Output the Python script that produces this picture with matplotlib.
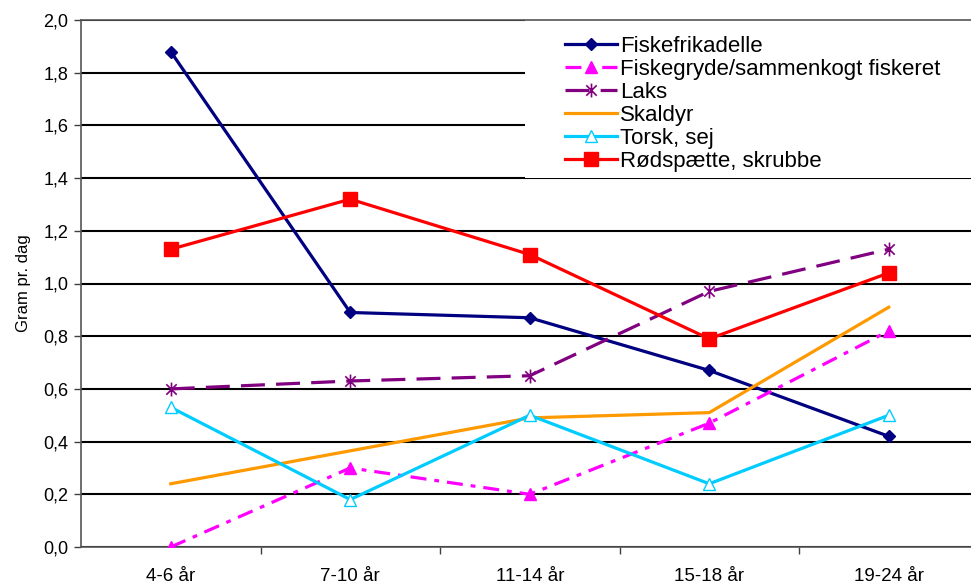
import numpy as np
import matplotlib
matplotlib.use("Agg")
import matplotlib.pyplot as plt
from matplotlib.path import Path
from matplotlib.patches import Rectangle

plt.rcParams['font.family'] = ['Liberation Sans', 'DejaVu Sans']

# data
ages = ['4-6 år', '7-10 år', '11-14 år', '15-18 år', '19-24 år']
fiskefrikadelle = [1.88, 0.89, 0.87, 0.67, 0.42]
fiskegryde = [0.00, 0.30, 0.20, 0.47, 0.82]
laks = [0.60, 0.63, 0.65, 0.97, 1.13]
skaldyr = [0.24, None, 0.49, 0.51, 0.91]
torsk = [0.53, 0.18, 0.50, 0.24, 0.50]
roedspaette = [1.13, 1.32, 1.11, 0.79, 1.04]

# asterisk marker: vertical bar plus an X
star = Path([(0, -1), (0, 1), (-0.75, -0.75), (0.75, 0.75), (-0.75, 0.75), (0.75, -0.75)],
            [Path.MOVETO, Path.LINETO] * 3)

W, H = 971, 583
fig = plt.figure(figsize=(W / 100, H / 100), dpi=100)
ax = fig.add_axes([81 / W, (H - 547) / H, 897.5 / W, 527 / H])

x = np.arange(len(ages))


def valid(vals):
    xs = [i for i, v in enumerate(vals) if v is not None]
    return xs, [vals[i] for i in xs]


ax.plot(x, fiskefrikadelle, color='#000080', lw=2.3, marker='D', ms=6.5,
        label='Fiskefrikadelle', zorder=3)
ax.plot(x, fiskegryde, color='#FF00FF', lw=2.3, ls=(0, (5, 2.5, 1.5, 2.5)),
        marker='^', ms=9, label='Fiskegryde/sammenkogt fiskeret', zorder=3)
ax.plot(x, laks, color='#800080', lw=2.3, ls=(0, (7.5, 3.5)), marker=star, ms=10,
        mew=1.2, label='Laks', zorder=3)
sx, sy = valid(skaldyr)
ax.plot(sx, sy, color='#FF9900', lw=2.3, label='Skaldyr', zorder=3)
ax.plot(x, torsk, color='#00CCFF', lw=2.3, marker='^', ms=9, mfc='white', mew=1.0,
        label='Torsk, sej', zorder=3)
ax.plot(x, roedspaette, color='#FF0000', lw=2.3, marker='s', ms=9.5,
        label='Rødspætte, skrubbe', zorder=3)

ax.set_xlim(-0.5, len(ages) - 0.5)
ax.set_ylim(0, 2.0)
ax.set_yticks(np.arange(0, 2.01, 0.2))
ax.set_yticklabels([f'{v:.1f}'.replace('.', ',') for v in np.arange(0, 2.01, 0.2)])
ax.set_xticks(x)
ax.set_xticklabels(ages)
ax.set_xticks(np.arange(0.5, len(ages) - 1, 1), minor=True)
ax.tick_params(axis='x', which='major', length=0, pad=15, labelsize=13.5)
ax.tick_params(axis='x', which='minor', length=5, width=1, color='#404040')
ax.tick_params(axis='y', length=5, width=1, color='#404040', pad=4, labelsize=13)

ax.set_axisbelow(True)
ax.grid(axis='y', color='black', lw=1.5, zorder=0.5)
# white box behind the legend hides the grid there
ax.add_patch(Rectangle((0.495, 0.7), 0.6, 0.3, transform=ax.transAxes,
                       facecolor='white', edgecolor='none', zorder=1))

for side in ['left', 'bottom', 'top']:
    ax.spines[side].set_color('#555555')
    ax.spines[side].set_linewidth(1.2)
ax.spines['right'].set_visible(False)

ax.set_ylabel('Gram pr. dag', fontsize=12, labelpad=9)

ax.legend(loc='upper left', bbox_to_anchor=(0.539, 0.97), frameon=False,
          fontsize=16, handlelength=2.35, handletextpad=0.12, labelspacing=0.09,
          borderpad=0, borderaxespad=0)

fig.savefig('out.png', dpi=100)
